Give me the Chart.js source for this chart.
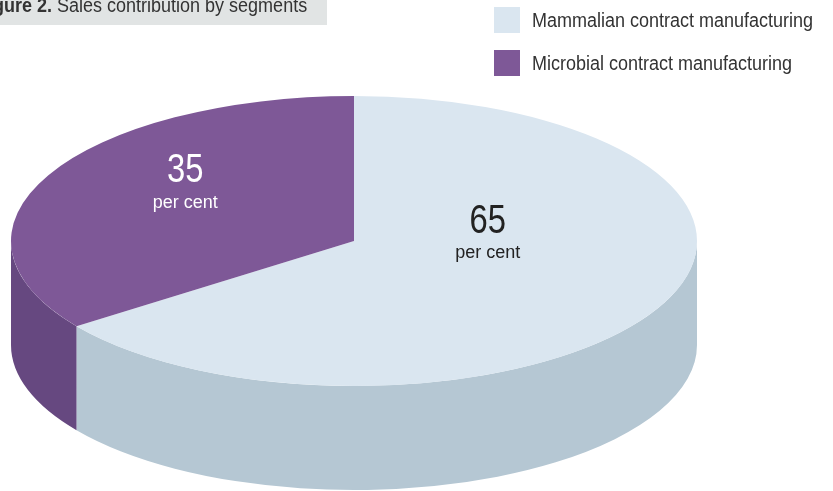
<!DOCTYPE html>
<html>
<head>
<meta charset="utf-8">
<script src="https://cdn.jsdelivr.net/npm/chart.js@4/dist/chart.umd.min.js"></script>
<style>
  html, body { margin: 0; padding: 0; background: #ffffff; }
  #wrap { width: 833px; height: 491px; position: relative; }
</style>
</head>
<body>
<div id="wrap"><canvas id="chart" width="833" height="491"></canvas></div>
<script>
// Segment shares of sales (per cent)
const categories = ['Mammalian contract manufacturing', 'Microbial contract manufacturing'];
const shares = [65, 35];
const unitLabel = 'per cent';
const titleBold = 'Figure 2. ';
const titleRest = 'Sales contribution by segments';

// Styling
const topColors = ['#dae6f0', '#7e5897'];
const sideColors = ['#b5c7d3', '#664880'];
const valueColors = ['#222222', '#ffffff'];
const labelShift = [[-19, -41], [-16, -26]];
const unitGap = [25, 26];

const FONT = '"Liberation Sans", Arial, sans-serif';

// Ellipse used to tilt the pie, plus the height of the cylinder wall
const TILT = { rx: 343, ry: 145, depth: 104 };

// narrow text: draw the glyphs squeezed horizontally
function drawText(ctx, text, x, y, align, sx) {
  ctx.save();
  ctx.translate(x, y);
  ctx.scale(sx, 1);
  ctx.textAlign = align;
  ctx.fillText(text, 0, 0);
  ctx.restore();
}

function pieFrame(chart) {
  const meta = chart.getDatasetMeta(0);
  const a = meta.data[0];
  return { cx: a.x, cy: a.y, r: a.outerRadius, meta };
}

const tiltedPie = {
  id: 'tiltedPie',
  beforeDatasetsDraw(chart) {
    const ctx = chart.ctx;
    const { cx, cy, r, meta } = pieFrame(chart);
    // cylinder wall: only the front half (0..PI) of each slice is visible
    meta.data.forEach((arc, i) => {
      const a1 = Math.max(arc.startAngle, 0);
      const a2 = Math.min(arc.endAngle, Math.PI);
      if (a2 <= a1) return;
      ctx.save();
      ctx.beginPath();
      ctx.ellipse(cx, cy, TILT.rx, TILT.ry, 0, a1, a2, false);
      ctx.ellipse(cx, cy + TILT.depth, TILT.rx, TILT.ry, 0, a2, a1, true);
      ctx.closePath();
      ctx.fillStyle = sideColors[i];
      ctx.fill();
      ctx.restore();
    });
    // squash the library's circular slices into the top ellipse
    ctx.save();
    ctx.translate(cx, cy);
    ctx.scale(TILT.rx / r, TILT.ry / r);
    ctx.translate(-cx, -cy);
  },
  afterDatasetsDraw(chart) {
    const ctx = chart.ctx;
    ctx.restore();
    const { cx, cy, meta } = pieFrame(chart);
    meta.data.forEach((arc, i) => {
      const mid = (arc.startAngle + arc.endAngle) / 2;
      const x = cx + TILT.rx * 0.5 * Math.cos(mid) + labelShift[i][0];
      const y = cy + TILT.ry * 0.5 * Math.sin(mid) + labelShift[i][1];
      ctx.save();
      ctx.fillStyle = valueColors[i];
      ctx.textBaseline = 'alphabetic';
      ctx.font = '41px ' + FONT;
      drawText(ctx, String(chart.data.datasets[0].data[i]), x, y, 'center', 0.8);
      ctx.font = '18px ' + FONT;
      drawText(ctx, unitLabel, x, y + unitGap[i], 'center', 1);
      ctx.restore();
    });
  },
  afterDraw(chart) {
    const ctx = chart.ctx;
    ctx.save();
    // title strip
    ctx.fillStyle = '#e1e4e4';
    ctx.fillRect(0, 0, 327, 25);
    ctx.fillStyle = '#333333';
    ctx.textBaseline = 'alphabetic';
    ctx.font = '20px ' + FONT;
    drawText(ctx, titleRest, 57, 12, 'left', 0.9);
    ctx.font = 'bold 20px ' + FONT;
    drawText(ctx, titleBold, 57, 12, 'right', 0.9);
    // legend
    ctx.font = '20px ' + FONT;
    categories.forEach((name, i) => {
      const y = 7 + i * 43;
      ctx.fillStyle = topColors[i];
      ctx.fillRect(494, y, 26, 26);
      ctx.fillStyle = '#333333';
      drawText(ctx, name, 532, y + 20, 'left', 0.9);
    });
    ctx.restore();
  }
};

new Chart(document.getElementById('chart'), {
  type: 'pie',
  data: {
    labels: categories,
    datasets: [{
      data: shares,
      backgroundColor: topColors,
      borderWidth: 0,
      clip: false
    }]
  },
  options: {
    responsive: false,
    animation: false,
    layout: { padding: { left: 0, right: 125, top: 0, bottom: 9 } },
    plugins: {
      legend: { display: false },
      tooltip: { enabled: false }
    }
  },
  plugins: [tiltedPie]
});
</script>
</body>
</html>
